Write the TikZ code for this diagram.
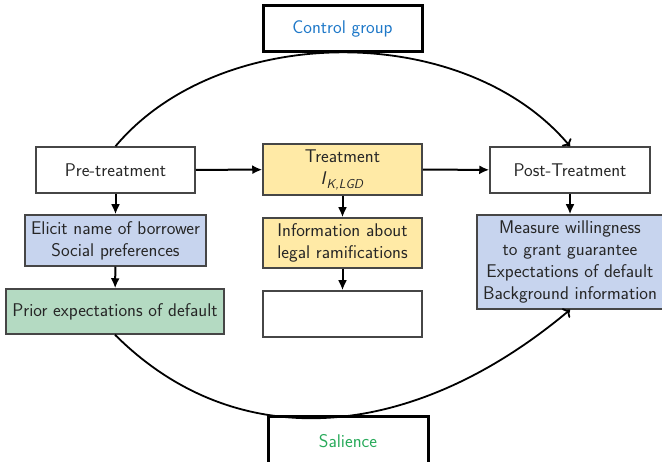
\documentclass[tikz,border=0pt]{standalone}
\usetikzlibrary{arrows.meta}
\definecolor{ctrlblue}{RGB}{30,120,200}
\definecolor{salgreen}{RGB}{40,170,90}
\definecolor{boxyellow}{RGB}{255,234,166}
\definecolor{boxblue}{RGB}{199,212,238}
\definecolor{boxgreen}{RGB}{180,218,194}
\definecolor{boxline}{RGB}{70,70,70}
\begin{document}
\begin{tikzpicture}[x=1pt,y=-1pt,
  every node/.style={font=\sffamily\fontsize{18.4}{21.8}\selectfont,text=black!85},
  box/.style={draw=boxline,line width=1.5pt,align=center,inner sep=0pt},
  bigbox/.style={draw=black,line width=3pt,align=center,inner sep=0pt},
  arr/.style={-{Latex[length=10pt,width=9pt]},line width=2pt},
  loopline/.style={-{To[length=6pt,width=12pt]},line width=1.8pt}]
\useasboundingbox (0,0) rectangle (662,462);
\clip (0,0) rectangle (662,462);

\node[bigbox,minimum width=159,minimum height=46,text=ctrlblue] (ctrl) at (342.5,29) {Control group};
\node[bigbox,minimum width=160,minimum height=48,text=salgreen] (sal) at (348,441) {Salience};

\node[box,minimum width=159,minimum height=46] (pre) at (115.5,170) {Pre-treatment};
\node[box,fill=boxyellow,minimum width=159,minimum height=51] (treat) at (342.5,169.5) {Treatment\\[1pt]\textit{I}\textsubscript{\textit{K,LGD}}};
\node[box,minimum width=160,minimum height=46] (post) at (570,170) {Post-Treatment};

\node[box,fill=boxblue,minimum width=181,minimum height=51] (elicit) at (115.5,240.5) {Elicit name of borrower\\Social preferences};
\node[box,fill=boxgreen,minimum width=218,minimum height=45] (prior) at (115,311.5) {Prior expectations of default};

\node[box,fill=boxyellow,minimum width=159,minimum height=50] (info) at (342.5,243) {Information about\\legal ramifications};
\node[box,minimum width=159,minimum height=46] (empty) at (342.5,314) {};

\node[box,fill=boxblue,minimum width=186,minimum height=94] (meas) at (570,262) {Measure willingness\\to grant guarantee\\Expectations of default\\Background information};

\draw[arr] (pre) -- (treat);
\draw[arr] (treat) -- (post);
\draw[arr] (pre) -- (elicit);
\draw[arr] (elicit) -- (prior);
\draw[arr] (treat) -- (info);
\draw[arr] (info) -- (empty);
\draw[arr] (post) -- (meas);

\draw[loopline] (pre.north) .. controls +(105,-125) and +(-105,-125) .. (post.north);
\draw[loopline] (prior.south) .. controls +(123,123) and +(-156,131) .. (meas.south);
\end{tikzpicture}
\end{document}
